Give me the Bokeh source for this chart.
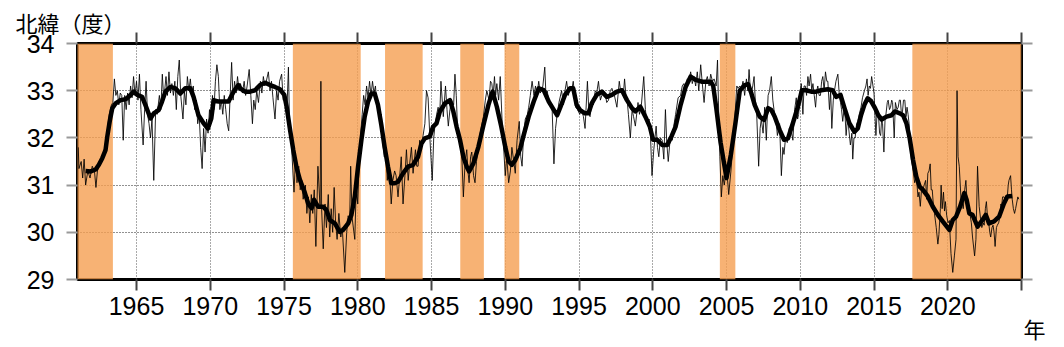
from bokeh.plotting import figure
from bokeh.models import FixedTicker, LinearAxis, Title, Range1d
from bokeh.embed import file_html
from bokeh.resources import INLINE

# Large-meander periods (shaded)
meander_start = [1959.6, 1975.6, 1981.85, 1986.95, 1989.95, 2004.55, 2017.6]
meander_end = [1963.4, 1980.2, 1984.4, 1988.55, 1990.95, 2005.6, 2025.0]

x_ticks = [1965, 1970, 1975, 1980, 1985, 1990, 1995, 2000, 2005, 2010, 2015, 2020, 2025]
x_labels = ["1965", "1970", "1975", "1980", "1985", "1990", "1995", "2000", "2005", "2010", "2015", "2020", ""]
y_ticks = [29, 30, 31, 32, 33, 34]

# Short-term (thin) series
thin_year = [
    1961.05, 1961.1, 1961.25, 1961.35, 1961.45, 1961.55, 1961.7, 1961.85, 1962.0, 1962.15,
    1962.25, 1962.35, 1962.5, 1962.7, 1962.85, 1963.0, 1963.15, 1963.3, 1963.4, 1963.5,
    1963.6, 1963.7, 1963.8, 1963.9, 1964.0, 1964.1, 1964.2, 1964.3, 1964.4, 1964.5,
    1964.6, 1964.7, 1964.8, 1964.9, 1965.0, 1965.1, 1965.2, 1965.3, 1965.45, 1965.55,
    1965.65, 1965.75, 1965.85, 1965.95, 1966.05, 1966.17, 1966.3, 1966.4, 1966.55, 1966.65,
    1966.75, 1966.85, 1967.0, 1967.1, 1967.2, 1967.3, 1967.4, 1967.5, 1967.6, 1967.7,
    1967.8, 1967.9, 1968.0, 1968.15, 1968.25, 1968.35, 1968.45, 1968.55, 1968.65, 1968.75,
    1968.85, 1968.95, 1969.05, 1969.15, 1969.25, 1969.35, 1969.45, 1969.55, 1969.65, 1969.75,
    1969.85, 1969.95, 1970.05, 1970.15, 1970.25, 1970.35, 1970.45, 1970.55, 1970.65, 1970.75,
    1970.85, 1970.95, 1971.05, 1971.15, 1971.25, 1971.35, 1971.45, 1971.55, 1971.65, 1971.75,
    1971.85, 1971.95, 1972.05, 1972.18, 1972.3, 1972.4, 1972.5, 1972.64, 1972.75, 1972.86,
    1972.95, 1973.05, 1973.15, 1973.27, 1973.4, 1973.5, 1973.6, 1973.7, 1973.8, 1973.94,
    1974.05, 1974.15, 1974.25, 1974.39, 1974.5, 1974.6, 1974.7, 1974.84, 1974.95, 1975.07,
    1975.2, 1975.3, 1975.38, 1975.5, 1975.6, 1975.68, 1975.78, 1975.88, 1976.0, 1976.1,
    1976.2, 1976.3, 1976.45, 1976.55, 1976.65, 1976.75, 1976.85, 1976.95, 1977.05, 1977.16,
    1977.3, 1977.45, 1977.5, 1977.55, 1977.66, 1977.78, 1977.88, 1978.0, 1978.1, 1978.2,
    1978.3, 1978.4, 1978.5, 1978.6, 1978.72, 1978.85, 1978.95, 1979.12, 1979.25, 1979.35,
    1979.45, 1979.52, 1979.62, 1979.8, 1979.9, 1980.0, 1980.1, 1980.2, 1980.3, 1980.4,
    1980.5, 1980.6, 1980.7, 1980.8, 1980.9, 1981.0, 1981.1, 1981.2, 1981.3, 1981.4,
    1981.5, 1981.6, 1981.7, 1981.8, 1981.9, 1982.0, 1982.1, 1982.2, 1982.27, 1982.38,
    1982.5, 1982.6, 1982.73, 1982.95, 1983.07, 1983.2, 1983.3, 1983.42, 1983.52, 1983.64,
    1983.75, 1983.91, 1984.0, 1984.09, 1984.2, 1984.3, 1984.43, 1984.55, 1984.66, 1984.77,
    1984.89, 1985.05, 1985.15, 1985.23, 1985.35, 1985.45, 1985.55, 1985.64, 1985.8, 1985.95,
    1986.05, 1986.14, 1986.25, 1986.36, 1986.5, 1986.59, 1986.68, 1986.77, 1986.9, 1987.05,
    1987.16, 1987.28, 1987.39, 1987.47, 1987.55, 1987.65, 1987.73, 1987.85, 1987.95, 1988.05,
    1988.14, 1988.3, 1988.42, 1988.52, 1988.65, 1988.75, 1988.9, 1989.0, 1989.09, 1989.18,
    1989.27, 1989.35, 1989.43, 1989.55, 1989.66, 1989.78, 1989.89, 1990.0, 1990.1, 1990.23,
    1990.35, 1990.45, 1990.58, 1990.68, 1990.8, 1990.95, 1991.05, 1991.14, 1991.25, 1991.36,
    1991.5, 1991.59, 1991.7, 1991.82, 1991.95, 1992.05, 1992.15, 1992.27, 1992.37, 1992.45,
    1992.55, 1992.68, 1992.76, 1992.84, 1992.95, 1993.07, 1993.18, 1993.3, 1993.41, 1993.52,
    1993.64, 1993.82, 1993.95, 1994.05, 1994.16, 1994.28, 1994.39, 1994.5, 1994.61, 1994.77,
    1994.9, 1995.05, 1995.18, 1995.3, 1995.41, 1995.57, 1995.68, 1995.75, 1995.88, 1995.98,
    1996.1, 1996.2, 1996.32, 1996.45, 1996.55, 1996.65, 1996.77, 1996.88, 1997.0, 1997.12,
    1997.23, 1997.4, 1997.57, 1997.73, 1997.82, 1997.91, 1998.0, 1998.09, 1998.18, 1998.25,
    1998.35, 1998.48, 1998.6, 1998.7, 1998.82, 1999.0, 1999.1, 1999.23, 1999.39, 1999.5,
    1999.61, 1999.75, 1999.84, 1999.95, 2000.07, 2000.23, 2000.32, 2000.41, 2000.52, 2000.64,
    2000.75, 2000.86, 2000.95, 2001.05, 2001.2, 2001.32, 2001.45, 2001.55, 2001.72, 2001.89,
    2002.0, 2002.11, 2002.22, 2002.34, 2002.45, 2002.57, 2002.68, 2002.8, 2002.91, 2003.02,
    2003.12, 2003.25, 2003.36, 2003.48, 2003.6, 2003.7, 2003.82, 2003.93, 2004.05, 2004.16,
    2004.3, 2004.39, 2004.45, 2004.55, 2004.65, 2004.75, 2004.85, 2005.0, 2005.15, 2005.3,
    2005.45, 2005.6, 2005.7, 2005.79, 2005.9, 2006.01, 2006.12, 2006.23, 2006.35, 2006.45,
    2006.53, 2006.62, 2006.69, 2006.78, 2006.87, 2006.95, 2007.03, 2007.18, 2007.28, 2007.36,
    2007.48, 2007.59, 2007.7, 2007.82, 2007.92, 2008.04, 2008.14, 2008.22, 2008.35, 2008.45,
    2008.6, 2008.72, 2008.82, 2008.9, 2009.0, 2009.12, 2009.25, 2009.35, 2009.5, 2009.62,
    2009.73, 2009.82, 2009.89, 2010.0, 2010.07, 2010.18, 2010.26, 2010.34, 2010.43, 2010.52,
    2010.6, 2010.7, 2010.78, 2010.86, 2010.95, 2011.04, 2011.12, 2011.19, 2011.28, 2011.37,
    2011.45, 2011.53, 2011.62, 2011.71, 2011.8, 2011.87, 2011.98, 2012.06, 2012.14, 2012.24,
    2012.32, 2012.42, 2012.55, 2012.65, 2012.73, 2012.8, 2012.88, 2013.0, 2013.11, 2013.2,
    2013.27, 2013.4, 2013.5, 2013.56, 2013.64, 2013.72, 2013.82, 2013.9, 2014.0, 2014.12,
    2014.22, 2014.35, 2014.45, 2014.53, 2014.6, 2014.68, 2014.76, 2014.84, 2015.0, 2015.13,
    2015.22, 2015.29, 2015.38, 2015.45, 2015.52, 2015.58, 2015.67, 2015.75, 2015.81, 2015.9,
    2015.96, 2016.05, 2016.12, 2016.2, 2016.26, 2016.37, 2016.45, 2016.56, 2016.64, 2016.72,
    2016.79, 2016.86, 2016.93, 2017.0, 2017.09, 2017.17, 2017.24, 2017.31, 2017.38, 2017.45,
    2017.53, 2017.65, 2017.76, 2017.87, 2017.98, 2018.05, 2018.14, 2018.22, 2018.32, 2018.4,
    2018.5, 2018.57, 2018.65, 2018.73, 2018.81, 2018.88, 2018.95, 2019.02, 2019.1, 2019.22,
    2019.33, 2019.4, 2019.5, 2019.55, 2019.62, 2019.71, 2019.78, 2019.84, 2019.93, 2020.02,
    2020.11, 2020.22, 2020.34, 2020.45, 2020.56, 2020.63, 2020.7, 2020.78, 2020.9, 2021.0,
    2021.05, 2021.15, 2021.23, 2021.3, 2021.35, 2021.5, 2021.6, 2021.68, 2021.82, 2021.91,
    2022.02, 2022.13, 2022.22, 2022.31, 2022.4, 2022.47, 2022.55, 2022.62, 2022.7, 2022.76,
    2022.85, 2022.91, 2023.0, 2023.07, 2023.14, 2023.21, 2023.3, 2023.36, 2023.45, 2023.52,
    2023.6, 2023.65, 2023.72, 2023.81, 2023.9, 2024.04, 2024.1, 2024.15, 2024.26, 2024.32,
    2024.37, 2024.45, 2024.53, 2024.6, 2024.66, 2024.75, 2024.82,
]
thin_lat = [
    31.8, 31.35, 31.5, 31.15, 31.55, 31.0, 31.3, 31.15, 31.4, 31.3,
    30.95, 31.3, 31.45, 31.6, 31.8, 32.1, 32.5, 32.7, 32.75, 33.25,
    32.9, 33.0, 32.7, 32.95, 32.9, 31.95, 32.9, 32.6, 32.95, 32.7,
    33.1, 32.85, 33.3, 32.9, 33.2, 32.8, 33.35, 32.6, 31.85, 32.6,
    33.2, 32.5, 32.3, 32.0, 32.4, 31.1, 32.6, 32.5, 32.9, 32.6,
    33.35, 32.8, 33.3, 32.9, 33.4, 32.95, 33.15, 32.9, 33.2, 32.6,
    33.3, 33.65, 32.9, 32.4, 33.0, 32.7, 33.3, 33.0, 33.25, 32.9,
    33.1, 32.6, 32.8, 32.3, 32.5, 31.8, 31.35, 32.2, 31.7, 32.4,
    32.1, 32.6, 32.3, 32.9, 32.6, 33.2, 33.55, 33.3, 32.6, 32.8,
    32.5, 32.9, 32.6, 32.3, 32.15, 32.9, 33.6, 32.8, 33.2, 32.95,
    33.3, 33.0, 33.15, 32.95, 33.2, 32.9, 33.1, 33.45, 32.9, 32.3,
    32.8, 32.6, 33.0, 32.75, 33.2, 32.95, 33.3, 33.1, 33.2, 33.4,
    33.0, 33.2, 32.85, 32.4, 33.0, 32.8, 33.2, 33.35, 32.8, 32.9,
    32.6, 33.5, 32.2, 31.9, 31.3, 30.85, 31.6, 31.05, 31.4, 30.9,
    31.1, 30.7, 31.0, 30.4, 30.75, 30.2, 30.8, 30.4, 30.9, 29.7,
    31.4, 30.5, 33.2, 30.5, 29.65, 30.6, 30.1, 30.8, 29.9, 30.5,
    30.0, 30.95, 30.2, 29.85, 30.4, 29.9, 30.1, 29.15, 30.0, 30.35,
    30.2, 31.4, 30.3, 29.85, 31.0, 30.6, 31.5, 32.1, 32.5, 32.9,
    32.7, 33.1, 32.85, 33.2, 32.9, 33.2, 32.95, 33.1, 32.7, 32.8,
    32.3, 32.5, 31.9, 31.6, 31.8, 31.1, 31.4, 31.0, 30.6, 31.1,
    31.3, 31.2, 30.75, 31.6, 30.6, 31.2, 31.75, 31.1, 31.45, 31.8,
    31.25, 31.75, 31.4, 31.4, 31.95, 31.8, 32.05, 32.3, 33.0, 32.85,
    32.0, 31.1, 32.0, 32.25, 32.5, 32.65, 32.4, 33.2, 32.45, 33.1,
    32.6, 32.25, 32.6, 32.8, 32.7, 33.35, 32.9, 32.15, 31.9, 31.65,
    30.75, 31.5, 31.75, 31.3, 31.05, 31.6, 31.7, 31.2, 31.05, 31.5,
    31.7, 32.1, 32.3, 32.45, 32.8, 33.0, 32.8, 33.2, 33.15, 32.9,
    33.3, 32.9, 33.15, 32.8, 33.3, 32.4, 31.8, 31.2, 31.6, 31.05,
    31.3, 31.8, 31.5, 31.25, 31.95, 32.35, 31.6, 31.4, 32.1, 32.4,
    32.5, 32.65, 32.9, 33.2, 32.9, 33.1, 32.9, 33.2, 32.95, 33.0,
    33.1, 33.5, 32.9, 33.0, 32.8, 32.75, 32.6, 31.45, 32.2, 32.5,
    32.75, 33.0, 32.7, 33.0, 33.2, 32.9, 33.05, 33.0, 33.2, 32.65,
    32.6, 32.5, 32.6, 32.45, 32.2, 33.2, 32.5, 32.45, 32.8, 32.7,
    33.0, 32.95, 33.2, 32.8, 32.9, 33.0, 32.95, 32.75, 32.8, 33.0,
    33.05, 32.9, 32.65, 33.2, 33.0, 33.05, 32.9, 33.25, 32.9, 32.85,
    32.5, 32.0, 32.6, 32.45, 32.25, 32.75, 32.5, 32.7, 33.3, 32.6,
    32.3, 32.4, 32.1, 31.2, 31.75, 32.25, 31.8, 31.6, 32.0, 31.95,
    31.55, 32.6, 31.9, 31.5, 32.05, 31.95, 32.3, 32.5, 32.85, 32.9,
    33.1, 33.15, 33.0, 33.25, 33.2, 33.4, 33.15, 33.3, 33.1, 33.4,
    33.0, 33.55, 33.15, 32.75, 33.2, 33.3, 33.1, 33.35, 33.2, 33.25,
    33.1, 33.65, 32.8, 31.6, 30.75, 31.2, 31.0, 31.4, 30.8, 31.3,
    31.9, 32.6, 33.1, 33.05, 33.1, 33.05, 33.2, 32.9, 33.25, 33.0,
    33.45, 33.0, 32.95, 33.1, 33.3, 32.8, 32.65, 31.4, 32.2, 32.4,
    32.1, 32.65, 31.95, 32.9, 33.0, 33.3, 32.8, 32.6, 32.4, 32.05,
    32.3, 31.2, 31.8, 31.65, 32.0, 31.9, 32.2, 32.25, 31.95, 32.6,
    32.85, 32.4, 32.5, 33.0, 33.15, 32.5, 33.1, 33.1, 32.9, 33.3,
    33.1, 33.35, 33.0, 33.15, 32.9, 32.65, 33.0, 33.1, 32.9, 32.9,
    33.2, 33.3, 33.0, 33.4, 33.2, 33.2, 32.6, 33.0, 32.2, 32.8,
    33.0, 33.2, 33.35, 32.9, 32.75, 32.6, 32.35, 32.7, 32.05, 32.4,
    32.25, 31.85, 32.1, 31.55, 32.0, 32.0, 32.3, 32.35, 32.5, 32.65,
    32.85, 33.0, 33.1, 33.25, 32.9, 33.1, 33.05, 33.3, 32.95, 32.05,
    32.6, 32.55, 32.1, 32.05, 32.4, 32.3, 31.7, 32.4, 32.5, 32.75,
    32.8, 32.6, 32.65, 32.8, 32.75, 32.0, 32.75, 32.6, 32.65, 32.8,
    32.8, 32.5, 32.55, 32.8, 32.8, 32.45, 32.65, 32.5, 32.3, 31.9,
    31.55, 31.3, 31.05, 31.2, 30.75, 30.85, 30.55, 30.9, 30.9, 31.0,
    31.1, 30.7, 31.25, 31.3, 31.45, 30.9, 30.9, 30.6, 30.4, 30.1,
    29.75, 29.95, 30.5, 31.0, 30.5, 30.85, 30.45, 30.65, 30.35, 30.2,
    30.25, 29.55, 29.15, 29.5, 29.85, 33.0, 31.6, 31.4, 30.7, 30.6,
    30.5, 30.9, 31.1, 30.7, 30.5, 30.4, 30.2, 29.9, 29.5, 29.85,
    31.4, 30.55, 30.3, 30.1, 30.2, 30.15, 30.5, 30.65, 30.3, 30.25,
    30.0, 29.9, 30.1, 30.15, 30.0, 29.7, 30.1, 30.15, 30.2, 30.3,
    30.6, 30.55, 30.75, 30.75, 30.7, 30.75, 31.0, 31.1, 31.2, 30.9,
    30.7, 30.5, 30.4, 30.5, 30.6, 30.75, 30.7,
]

# Smoothed (thick) series
smooth_year = [
    1961.55, 1961.9, 1962.23, 1962.45, 1962.68, 1962.9, 1963.02, 1963.2, 1963.36, 1963.58,
    1963.92, 1964.26, 1964.6, 1964.82, 1965.05, 1965.38, 1965.6, 1965.95, 1966.17, 1966.5,
    1966.73, 1966.96, 1967.3, 1967.64, 1967.97, 1968.3, 1968.65, 1968.87, 1969.2, 1969.55,
    1969.84, 1970.07, 1970.23, 1970.56, 1970.9, 1971.24, 1971.58, 1971.91, 1972.03, 1972.36,
    1972.7, 1973.04, 1973.38, 1973.72, 1974.05, 1974.39, 1974.73, 1975.02, 1975.18, 1975.41,
    1975.63, 1975.86, 1976.08, 1976.42, 1976.64, 1976.87, 1977.03, 1977.32, 1977.66, 1977.88,
    1978.11, 1978.45, 1978.78, 1979.01, 1979.35, 1979.57, 1979.8, 1980.02, 1980.25, 1980.47,
    1980.7, 1980.92, 1981.15, 1981.37, 1981.6, 1981.82, 1982.05, 1982.27, 1982.5, 1982.73,
    1983.07, 1983.41, 1983.75, 1984.09, 1984.32, 1984.55, 1984.89, 1985.11, 1985.34, 1985.57,
    1985.91, 1986.25, 1986.48, 1986.7, 1986.93, 1987.16, 1987.39, 1987.55, 1987.84, 1988.18,
    1988.52, 1988.86, 1989.14, 1989.43, 1989.73, 1990.0, 1990.23, 1990.45, 1990.68, 1991.02,
    1991.25, 1991.59, 1991.93, 1992.27, 1992.61, 1992.95, 1993.3, 1993.52, 1993.75, 1994.05,
    1994.39, 1994.61, 1994.84, 1995.07, 1995.41, 1995.64, 1995.86, 1996.2, 1996.55, 1996.89,
    1997.23, 1997.57, 1997.91, 1998.25, 1998.59, 1998.82, 1999.16, 1999.5, 1999.8, 2000.02,
    2000.3, 2000.64, 2000.98, 2001.27, 2001.55, 2001.89, 2002.23, 2002.57, 2002.91, 2003.36,
    2003.93, 2004.1, 2004.3, 2004.6, 2005.0, 2005.3, 2005.6, 2005.9, 2006.24, 2006.46,
    2006.69, 2006.91, 2007.25, 2007.55, 2007.82, 2008.04, 2008.27, 2008.6, 2008.9, 2009.17,
    2009.5, 2009.84, 2010.11, 2010.4, 2010.74, 2011.08, 2011.42, 2011.87, 2012.2, 2012.43,
    2012.73, 2013.0, 2013.33, 2013.67, 2013.9, 2014.12, 2014.35, 2014.57, 2014.8, 2015.07,
    2015.29, 2015.52, 2015.85, 2016.19, 2016.41, 2016.75, 2016.97, 2017.2, 2017.42, 2017.65,
    2017.87, 2018.09, 2018.32, 2018.65, 2018.99, 2019.33, 2019.66, 2020.11, 2020.34, 2020.56,
    2020.83, 2021.12, 2021.28, 2021.46, 2021.68, 2022.02, 2022.35, 2022.58, 2022.8, 2023.14,
    2023.48, 2023.81, 2024.04, 2024.37,
]
smooth_lat = [
    31.30, 31.29, 31.33, 31.43, 31.57, 31.74, 32.03, 32.38, 32.63, 32.73,
    32.80, 32.82, 32.91, 32.98, 32.91, 32.87, 32.70, 32.41, 32.52, 32.59,
    32.77, 32.98, 33.08, 33.05, 32.94, 33.05, 33.05, 32.87, 32.48, 32.31,
    32.20, 32.41, 32.80, 32.77, 32.77, 32.77, 32.98, 33.12, 33.05, 32.98,
    32.98, 33.01, 33.12, 33.17, 33.12, 33.08, 33.03, 32.91, 32.66, 32.17,
    31.74, 31.36, 31.11, 30.83, 30.61, 30.51, 30.69, 30.54, 30.54, 30.47,
    30.26, 30.19, 30.01, 30.05, 30.19, 30.37, 30.76, 31.39, 31.96, 32.45,
    32.77, 32.94, 32.94, 32.70, 32.27, 31.81, 31.39, 31.04, 31.04, 31.07,
    31.25, 31.39, 31.43, 31.60, 31.88, 31.99, 32.03, 32.24, 32.31, 32.56,
    32.73, 32.80, 32.56, 32.24, 31.96, 31.60, 31.39, 31.29, 31.46, 31.81,
    32.27, 32.70, 32.98, 32.66, 32.24, 31.81, 31.50, 31.43, 31.53, 31.78,
    32.06, 32.45, 32.77, 33.05, 33.01, 32.77, 32.59, 32.48, 32.66, 32.91,
    33.05, 33.05, 32.70, 32.59, 32.52, 32.52, 32.73, 32.91, 32.98, 32.87,
    32.91, 32.98, 33.01, 32.80, 32.63, 32.56, 32.66, 32.45, 32.24, 31.96,
    31.96, 31.85, 31.85, 32.03, 32.24, 32.70, 33.08, 33.30, 33.23, 33.19,
    33.19, 33.10, 32.65, 31.90, 31.15, 31.65, 32.30, 33.00, 33.12, 33.14,
    32.94, 32.70, 32.45, 32.38, 32.63, 32.59, 32.45, 32.17, 31.96, 31.99,
    32.31, 32.66, 33.01, 33.01, 32.98, 32.98, 33.01, 33.03, 33.01, 32.87,
    32.91, 32.63, 32.31, 32.13, 32.20, 32.48, 32.70, 32.84, 32.78, 32.63,
    32.48, 32.39, 32.45, 32.48, 32.56, 32.52, 32.48, 32.31, 31.99, 31.53,
    31.18, 30.97, 30.90, 30.76, 30.54, 30.37, 30.23, 30.05, 30.26, 30.33,
    30.54, 30.83, 30.69, 30.40, 30.37, 30.12, 30.26, 30.37, 30.19, 30.23,
    30.33, 30.61, 30.76, 30.77,
]

TICK_FONT = "Liberation Sans"
CJK_FONT = "Liberation Sans, Noto Sans CJK JP"

p = figure(
    width=1064, height=347,
    x_range=Range1d(1961, 2025), y_range=Range1d(29, 34),
    output_backend="svg", toolbar_location=None,
    min_border_left=77, min_border_right=43, min_border_top=43, min_border_bottom=68,
)
p.background_fill_color = "white"
p.border_fill_color = "white"
p.outline_line_color = "black"
p.outline_line_width = 3
p.outline_line_alpha = 1.0

# grids
p.xgrid.ticker = FixedTicker(ticks=x_ticks)
p.ygrid.ticker = FixedTicker(ticks=y_ticks)
p.xgrid.grid_line_color = "#555555"
p.xgrid.grid_line_dash = "1 2"
p.xgrid.grid_line_width = 1
p.ygrid.grid_line_color = "#222222"
p.ygrid.grid_line_dash = "1 2"
p.ygrid.grid_line_width = 1

# shading
p.quad(left=meander_start, right=meander_end, bottom=29, top=34,
       fill_color="#f59f51", fill_alpha=0.8, line_color=None)

# lines
p.line(thin_year, thin_lat, line_color="black", line_width=1, line_alpha=0.85)
p.line(smooth_year, smooth_lat, line_color="black", line_width=4.5, line_join="round")

# axes
xb = p.xaxis[0]
xb.ticker = FixedTicker(ticks=x_ticks)
xb.major_label_overrides = {t: l for t, l in zip(x_ticks, x_labels)}
yl = p.yaxis[0]
yl.ticker = FixedTicker(ticks=y_ticks)

xt = LinearAxis(ticker=FixedTicker(ticks=x_ticks),
                major_label_overrides={t: "" for t in x_ticks})
yr = LinearAxis(ticker=FixedTicker(ticks=y_ticks),
                major_label_overrides={t: "" for t in y_ticks})
p.add_layout(xt, "above")
p.add_layout(yr, "right")

for ax in (xb, xt, yl, yr):
    ax.axis_line_color = None
    ax.minor_tick_line_color = None
    ax.major_tick_in = 0
    ax.major_tick_out = 11
    ax.major_tick_line_width = 2
    ax.major_label_text_font = TICK_FONT
    ax.major_label_text_font_size = "25px"
    ax.major_label_text_color = "black"
for ax in (xb, xt):
    ax.major_tick_line_color = "#444444"
for ax in (yl, yr):
    ax.major_tick_line_color = "#999999"
xt.major_label_text_font_size = "1px"
yr.major_label_text_font_size = "1px"
xb.major_label_standoff = 6
yl.major_label_standoff = 12

# texts
p.title.text = "北緯（度）"
p.title.text_font = CJK_FONT
p.title.text_font_size = "22px"
p.title.text_font_style = "normal"
p.title.text_color = "black"
p.title.align = "left"
p.title.offset = -62
p.title.standoff = -8

unit = Title(text="年", text_font=CJK_FONT, text_font_size="22px",
             text_font_style="normal", text_color="black",
             align="right", offset=-24, standoff=0, vertical_align="top")
p.add_layout(unit, "below")

open("out.html", "w").write(file_html(p, INLINE))
